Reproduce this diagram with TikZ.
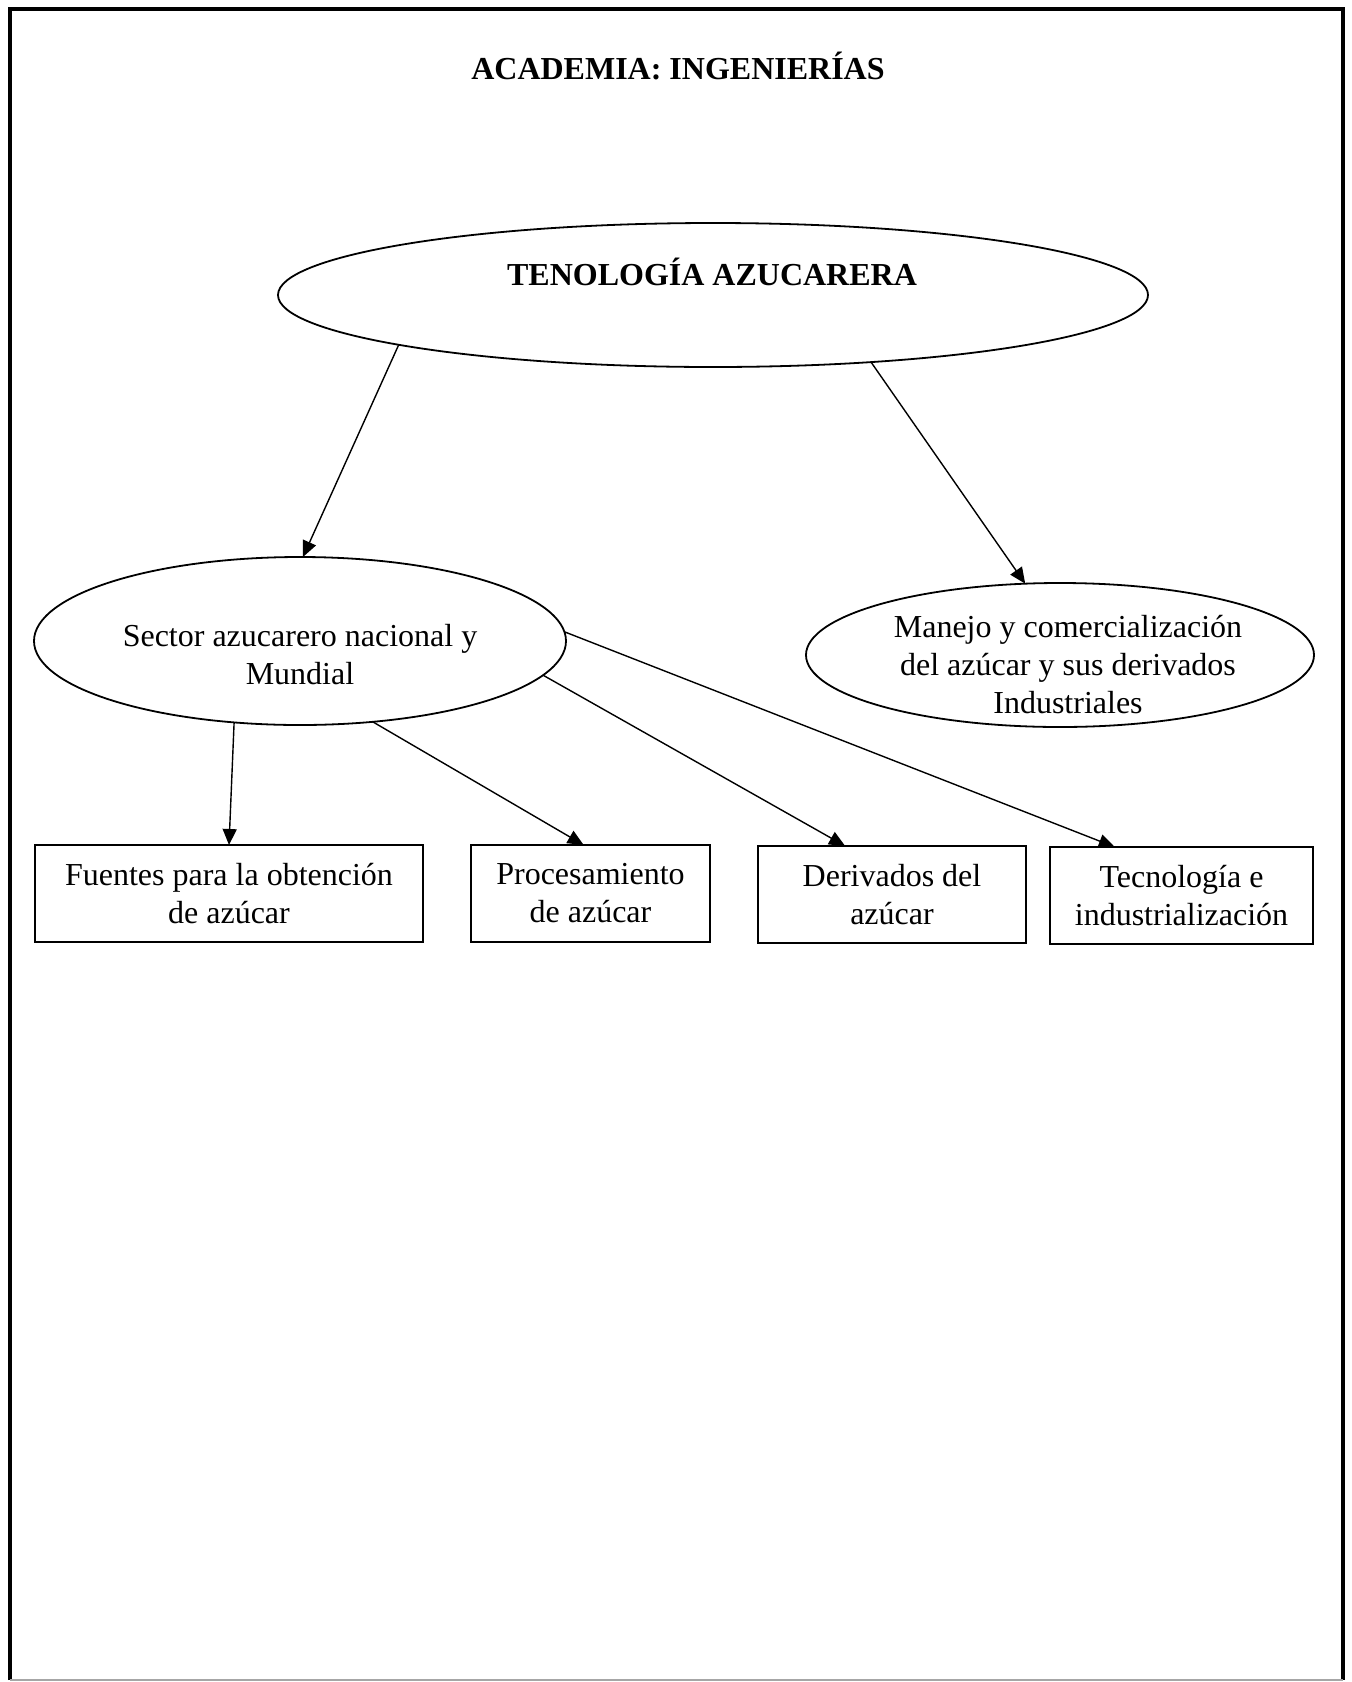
\documentclass[tikz,border=0pt]{standalone}
\usepackage{fontspec}
\setmainfont{Liberation Serif}
\usetikzlibrary{shapes.geometric,arrows.meta}
\begin{document}
\begin{tikzpicture}[x=0.5pt,y=-0.5pt,
  every node/.style={font=\fontsize{16}{19}\selectfont, align=center, outer sep=0pt, inner sep=0pt},
  boldtext/.style={font=\bfseries\fontsize{16}{19}\selectfont},
  oval/.style={draw, ellipse, line width=0.9pt},
  box/.style={draw, rectangle, line width=0.8pt, minimum height=48.5pt},
  conn/.style={line width=0.7pt, -{Triangle[length=8pt,width=7pt]}}
]
\useasboundingbox (0,0) rectangle (1351,1682);
% frame
\draw[line width=1.8pt] (10,1680) -- (10,9) -- (1343,9) -- (1343,1680);
\draw[line width=0.8pt, black!35] (10,1680) -- (1343,1680);

% title
\node[boldtext] (title) at (678,66) {ACADEMIA: INGENIERÍAS};

% ellipses
\node[oval, minimum width=435pt, minimum height=72pt] (top) at (713,295) {};
\node[boldtext] (toptext) at (712,272) {TENOLOGÍA AZUCARERA};

\node[oval, minimum width=266pt, minimum height=84pt] (sector) at (300,641) {};
\node (sectortext) at (300,655) {Sector azucarero nacional y\\Mundial};

\node[oval, minimum width=254pt, minimum height=72pt] (manejo) at (1060,655) {};
\node (manejotext) at (1068,665) {Manejo y comercialización\\del azúcar y sus derivados\\Industriales};

% boxes
\node[box, minimum width=194pt] (box1) at (229,893.5) {Fuentes para la obtención\\de azúcar};
\node[box, minimum width=119.5pt] (box2) at (590.5,893.5) {Procesamiento\\de azúcar};
\node[box, minimum width=134pt] (box3) at (892,894.5) {Derivados del\\azúcar};
\node[box, minimum width=131.5pt] (box4) at (1181.5,895.5) {Tecnología e\\industrialización};

% connectors
\draw[conn] (top.189.4) -- (sector.88);
\draw[conn] (top.-23.4) -- (manejo.116);
\draw[conn] (sector.-129.6) -- (box1.north);
\draw[conn] (sector.-48.5) -- (box2.98.8);
\draw[conn] (sector.-8.4) -- (box3.134.1);
\draw[conn] (sector.2.4) -- (box4.144.7);
\end{tikzpicture}
\end{document}
